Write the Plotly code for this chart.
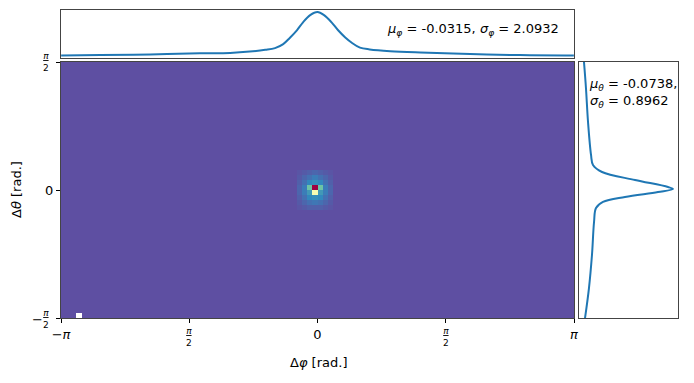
import numpy as np
import plotly.graph_objects as go

PI = np.pi

# 2D histogram: 100 x 50 bins, background level and the peak patch around (0, 0)
n_phi_bins = 100
n_theta_bins = 50
background_level = 0.0
peak_col0 = 46          # first column of the patch
peak_row_top = 28       # top row of the patch (row 0 = bottom)
peak_patch = [
    [0.01, 0.02, 0.03, 0.04, 0.03, 0.02, 0.01],
    [0.02, 0.04, 0.06, 0.08, 0.06, 0.04, 0.02],
    [0.03, 0.06, 0.10, 0.11, 0.10, 0.06, 0.03],
    [0.04, 0.08, 0.21, 1.00, 0.21, 0.08, 0.04],
    [0.04, 0.08, 0.13, 0.47, 0.13, 0.08, 0.04],
    [0.03, 0.06, 0.10, 0.11, 0.10, 0.06, 0.03],
    [0.02, 0.04, 0.06, 0.07, 0.06, 0.04, 0.02],
    [0.01, 0.02, 0.03, 0.03, 0.03, 0.02, 0.01],
]
empty_cell = (0, 3)     # (row, col) with no entry

# marginal in phi (top panel)
phi_pts = [-3.14, -2.66, -2.05, -1.44, -1.07, -0.83, -0.64, -0.52, -0.42, -0.34,
           -0.25, -0.18, -0.09, 0.0, 0.08, 0.17, 0.25, 0.34, 0.42, 0.52,
           0.64, 0.89, 1.26, 1.87, 2.48, 3.14]
phi_dens = [0.01, 0.02, 0.035, 0.06, 0.07, 0.10, 0.14, 0.18, 0.27, 0.41,
            0.59, 0.76, 0.93, 1.0, 0.93, 0.77, 0.59, 0.42, 0.30, 0.19,
            0.15, 0.11, 0.08, 0.045, 0.02, 0.01]

# marginal in theta (right panel)
theta_pts = [1.571, 1.252, 0.834, 0.430, 0.307, 0.221, 0.123, 0.037, 0.012,
             -0.025, -0.086, -0.147, -0.221, -0.393, -0.798, -1.203, -1.571]
theta_dens = [0.053, 0.074, 0.096, 0.128, 0.149, 0.245, 0.596, 0.947, 1.0,
              0.84, 0.489, 0.255, 0.181, 0.160, 0.138, 0.106, 0.064]

mu_phi, sigma_phi = -0.0315, 2.0932
mu_theta, sigma_theta = -0.0738, 0.8962

# build histogram grid
z = np.full((n_theta_bins, n_phi_bins), background_level)
for i, row in enumerate(peak_patch):
    r = peak_row_top - i
    for j, v in enumerate(row):
        z[r, peak_col0 + j] = v
z[empty_cell] = np.nan
phi_edges = np.linspace(-PI, PI, n_phi_bins + 1)
theta_edges = np.linspace(-PI / 2, PI / 2, n_theta_bins + 1)

spectral_r = ['rgb(94,79,162)', 'rgb(50,136,189)', 'rgb(102,194,165)', 'rgb(171,221,164)',
              'rgb(230,245,152)', 'rgb(255,255,191)', 'rgb(254,224,139)', 'rgb(253,174,97)',
              'rgb(244,109,67)', 'rgb(213,62,79)', 'rgb(158,1,66)']

W, H = 694, 383
OFF = 8  # page body margin: the plot div sits 8px in from the window corner

def fx(p):
    return (p - OFF) / W

def fy(p):
    return (H - (p - OFF)) / H

def px_x(a, b):
    return [fx(a), fx(b)]

def px_y(top, bottom):
    return [fy(bottom), fy(top)]

def note(x, y, text, size=13, **kw):
    d = dict(x=fx(x), y=fy(y), xref='paper', yref='paper', showarrow=False, text=text,
             font=dict(size=size), xanchor='center', yanchor='middle')
    d.update(kw)
    return d

blue = '#1f77b4'
fig = go.Figure()
fig.add_trace(go.Heatmap(x=phi_edges, y=theta_edges, z=z, zmin=0, zmax=1,
                         colorscale=spectral_r, showscale=False, hoverongaps=False))
fig.add_trace(go.Scatter(x=phi_pts, y=phi_dens, mode='lines', line=dict(color=blue, width=2, shape='spline'),
                         xaxis='x2', yaxis='y2', showlegend=False))
fig.add_trace(go.Scatter(x=theta_dens, y=theta_pts, mode='lines', line=dict(color=blue, width=2, shape='spline'),
                         xaxis='x3', yaxis='y3', showlegend=False))

box = dict(showline=True, linecolor='#444', linewidth=1, mirror=True, showgrid=False,
           zeroline=False, automargin=False)

# fraction tick labels (pi over 2), page pixels
frac = "<u><i>π</i></u><br>2"
annotations = [
    note(189, 337, frac, size=9),
    note(446, 337, frac, size=9),
    note(46, 62, frac, size=9),
    note(46, 319, frac, size=9),
    note(37, 319, "−"),
    note(318, 362, "Δ<i>φ</i> [rad.]"),
    note(16, 190, "Δ<i>θ</i> [rad.]", textangle=-90),
    note(561, 30, f"<i>μ<sub>φ</sub></i> = {mu_phi}, <i>σ<sub>φ</sub></i> = {sigma_phi}", xanchor='right'),
    note(587, 74, f"<i>μ<sub>θ</sub></i> = {mu_theta},<br><i>σ<sub>θ</sub></i> = {sigma_theta}",
         xanchor='left', yanchor='top', align='left'),
]

fig.update_layout(
    width=W, height=H, margin=dict(l=0, r=0, t=0, b=0),
    paper_bgcolor='white', plot_bgcolor='white',
    font=dict(family='DejaVu Sans', size=13, color='black'),
    showlegend=False,
    xaxis=dict(domain=px_x(61, 574), range=[-PI, PI], tickvals=[-PI, -PI / 2, 0, PI / 2, PI],
               ticktext=["−<i>π</i>", "", "0", "", "<i>π</i>"], ticks='outside', ticklen=4,
               tickcolor='black', **box),
    yaxis=dict(domain=px_y(62, 318), range=[-PI / 2, PI / 2], tickvals=[-PI / 2, 0, PI / 2],
               ticktext=["", "0", ""], ticks='outside', ticklen=4, tickcolor='black', **box),
    xaxis2=dict(domain=px_x(61, 574), anchor='y2', range=[-PI, PI], showticklabels=False, ticks='', **box),
    yaxis2=dict(domain=px_y(10, 58), anchor='x2', range=[-0.0455, 1.0455], showticklabels=False, ticks='', **box),
    xaxis3=dict(domain=px_x(579, 678), anchor='y3', range=[0, 1.053], showticklabels=False, ticks='', **box),
    yaxis3=dict(domain=px_y(62, 318), anchor='x3', range=[-PI / 2, PI / 2], showticklabels=False, ticks='', **box),
    annotations=annotations,
)

fig.write_html("out.html")
